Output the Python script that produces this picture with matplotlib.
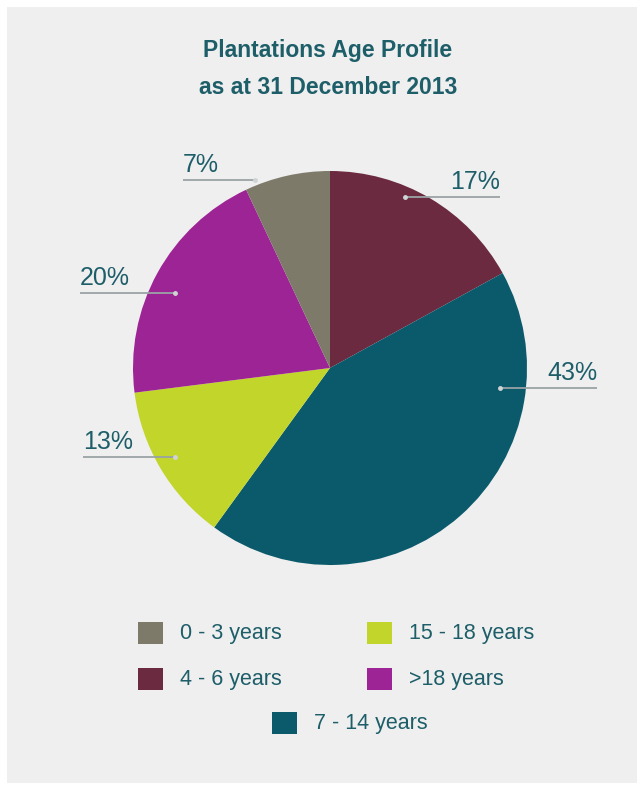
import matplotlib.pyplot as plt
from matplotlib.patches import Rectangle

# age groups in legend order
labels = ['0 - 3 years', '4 - 6 years', '7 - 14 years', '15 - 18 years', '>18 years']
shares = [7, 17, 43, 13, 20]
colors = ['#7e7a69', '#6b2a3f', '#0b5a6c', '#c2d52b', '#9d2494']

# pie runs clockwise from 12 o'clock starting with 4 - 6 years
pie_order = [1, 2, 3, 4, 0]

W, H = 639, 795
fig = plt.figure(figsize=(W / 100, H / 100), dpi=100, facecolor='white')

# grey panel behind everything
bg = fig.add_axes([0, 0, 1, 1])
bg.set_xlim(0, W)
bg.set_ylim(H, 0)
bg.axis('off')
bg.add_patch(Rectangle((7, 7), 630, 776, facecolor='#efefef', edgecolor='none'))

# pie in its own axes so its y axis points up
cx, cy, r = 330, 368, 197
pax = fig.add_axes([(cx - r) / W, 1 - (cy + r) / H, 2 * r / W, 2 * r / H])
pax.pie([shares[i] for i in pie_order], colors=[colors[i] for i in pie_order],
        startangle=90, counterclock=False, radius=1,
        wedgeprops=dict(linewidth=0))
pax.set_xlim(-1, 1)
pax.set_ylim(-1, 1)
pax.axis('off')

# overlay in pixel coordinates for text, leaders and legend
ax = fig.add_axes([0, 0, 1, 1])
ax.set_xlim(0, W)
ax.set_ylim(H, 0)
ax.axis('off')
ax.patch.set_alpha(0)

txt = '#1d5e69'
ax.text(328, 50, 'Plantations Age Profile', ha='center', va='center', fontsize=16.5,
        fontweight='bold', color=txt, family='Liberation Sans')
ax.text(328, 87, 'as at 31 December 2013', ha='center', va='center', fontsize=16.5,
        fontweight='bold', color=txt, family='Liberation Sans')

# percentage labels with horizontal leader lines (x0, x1, y, text side)
leaders = {
    0: (255, 183, 180, 'left'),
    1: (405, 500, 197, 'right'),
    2: (500, 597, 388, 'right'),
    3: (175, 83, 457, 'left'),
    4: (175, 80, 293, 'left'),
}
for i, (x0, x1, y, side) in leaders.items():
    ax.plot([x0, x1], [y, y], color='#9aa3a5', lw=1.3, solid_capstyle='butt')
    ax.plot([x0], [y], 'o', ms=2.5, color='#d0d4d4')
    ax.text(x1, y - 3, f'{shares[i]}%', ha=side, va='bottom', fontsize=18,
            color=txt, family='Liberation Sans')

# legend
legend_pos = {
    0: (138, 633), 3: (367, 633),
    1: (138, 679), 4: (367, 679),
    2: (272, 723),
}
for i, (x, y) in legend_pos.items():
    ax.add_patch(Rectangle((x, y - 11), 25, 22, facecolor=colors[i], edgecolor='none'))
    ax.text(x + 42, y, labels[i], ha='left', va='center', fontsize=15.5,
            color=txt, family='Liberation Sans')

fig.savefig('out.png', dpi=100, facecolor='white')
